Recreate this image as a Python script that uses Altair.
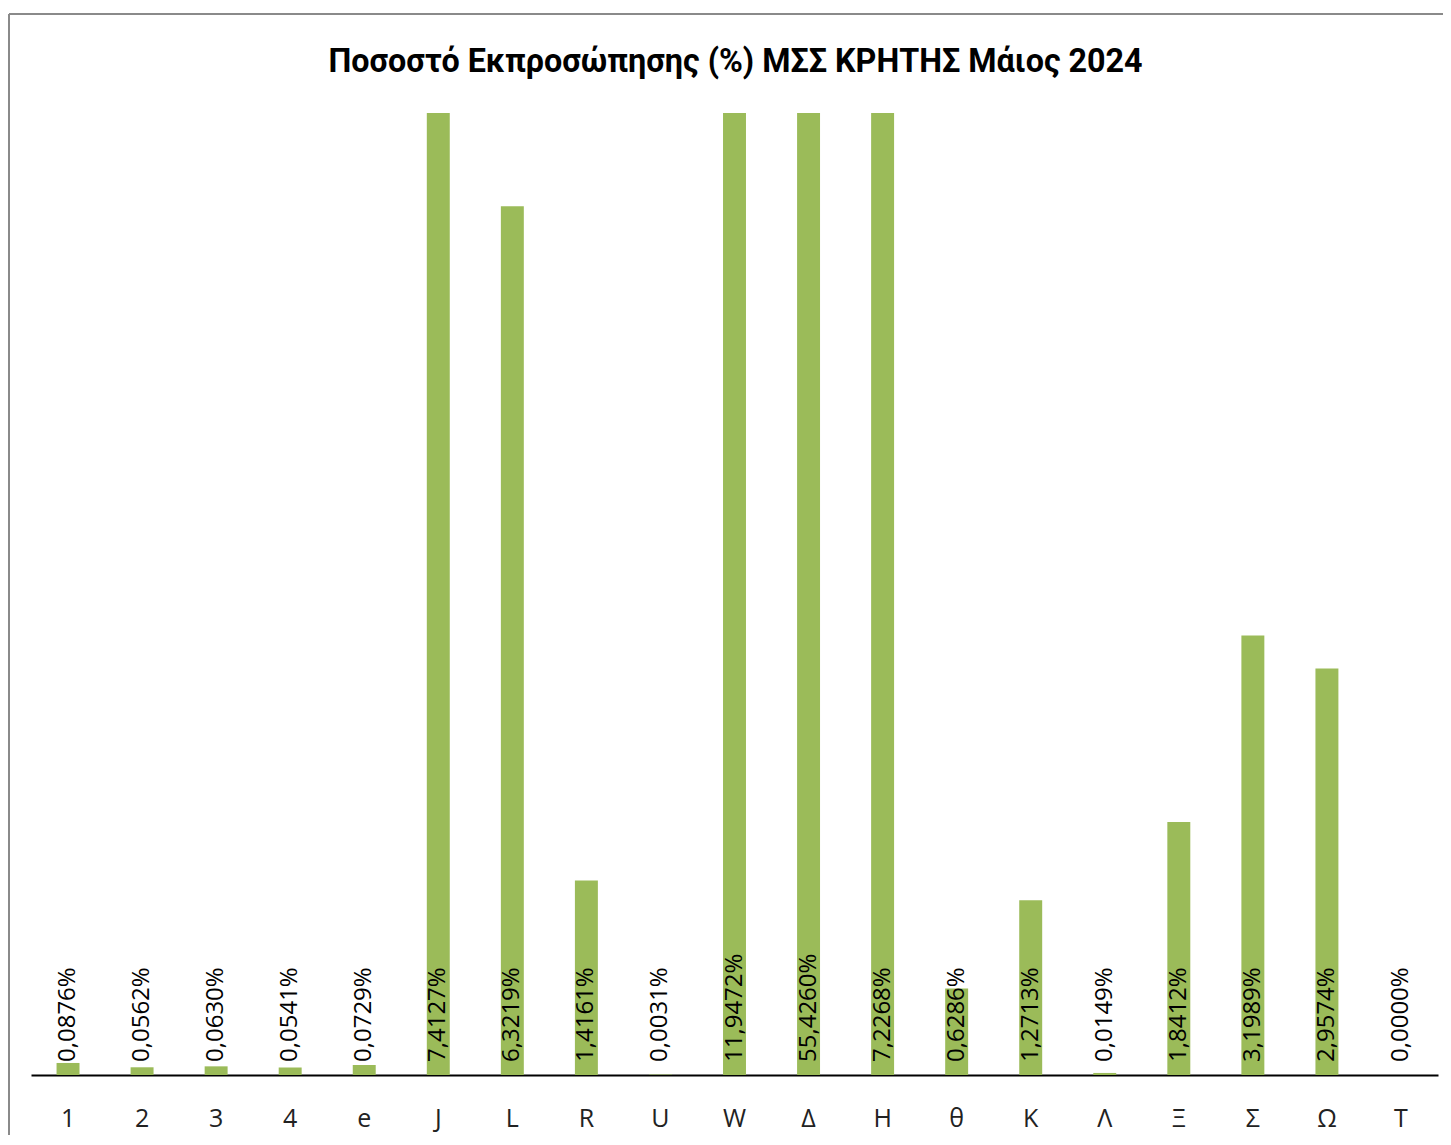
import altair as alt
import pandas as pd

categories = ["1", "2", "3", "4", "e", "J", "L", "R", "U", "W", "Δ", "Η", "θ", "Κ", "Λ", "Ξ", "Σ", "Ω", "Τ"]
values = [0.0876, 0.0562, 0.0630, 0.0541, 0.0729, 7.4127, 6.3219, 1.4161, 0.0031,
          11.9472, 55.4260, 7.2268, 0.6286, 1.2713, 0.0149, 1.8412, 3.1989, 2.9574, 0.0000]
title_text = "Ποσοστό Εκπροσώπησης (%) ΜΣΣ ΚΡΗΤΗΣ Μάιος 2024"

labels = [f"{v:.4f}".replace(".", ",") + "%" for v in values]
df = pd.DataFrame({"cat": categories, "val": values, "label": labels})

W = 1407
H = 962

xenc = alt.X("cat:N", sort=categories, title=None,
             scale=alt.Scale(paddingInner=0.69, paddingOuter=0.345),
             axis=alt.Axis(labelAngle=0, labelFontSize=25, labelFont="Open Sans",
                           labelColor="#222222", labelPadding=31, ticks=False,
                           domainColor="#000000", domainWidth=2, grid=False))
yscale = alt.Scale(domain=[0, 7], nice=False, zero=True)

base = alt.Chart(df)

bars = base.mark_bar(color="#9BBB59", clip=True).encode(
    x=xenc,
    y=alt.Y("val:Q", scale=yscale, axis=None),
)

text = base.mark_text(angle=270, align="left", baseline="middle", dx=13,
                      fontSize=24, font="Open Sans", color="#000000").encode(
    x=alt.X("cat:N", sort=categories),
    y=alt.datum(0),
    text="label:N",
)

title_df = pd.DataFrame({"t": [title_text]})
title = alt.Chart(title_df).mark_text(
    font="Roboto", fontSize=32.3, fontWeight="bold",
    color="#000000", align="center", baseline="middle").encode(
    x=alt.value(W / 2 + 1), y=alt.value(-51), text="t:N")

border_left = alt.Chart(title_df).mark_rule(color="#8a8a8a", strokeWidth=2).encode(
    x=alt.value(-22), y=alt.value(-99), y2=alt.value(H + 70))
border_top = alt.Chart(title_df).mark_rule(color="#8a8a8a", strokeWidth=2).encode(
    x=alt.value(-22), x2=alt.value(W + 10), y=alt.value(-99))

chart = alt.layer(bars, text, title, border_left, border_top).properties(
    width=W, height=H,
    autosize=alt.AutoSizeParams(type="none"),
    padding={"left": 23, "top": 105, "right": 5, "bottom": 60},
).configure_view(stroke=None)

chart.save("out.html", embed_options={"renderer": "svg", "actions": False})
